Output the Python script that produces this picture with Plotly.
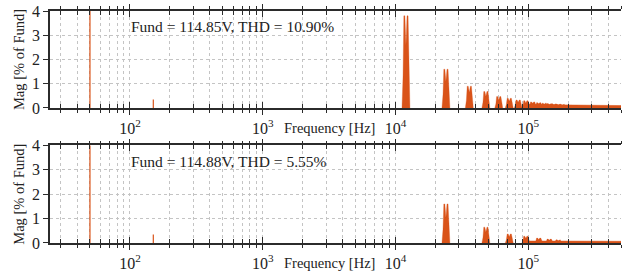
import numpy as np
import plotly.graph_objects as go

# ---------------- data ----------------
low_freqs = [50, 150]                 # Hz: fundamental, 3rd harmonic
low_mags_top = [100.0, 0.35]          # % of fundamental
low_mags_bot = [100.0, 0.35]

# switching-frequency sideband clusters (centre Hz, peak %, notch %)
top_fc = [12000, 24000, 36000, 48000, 60000, 72000, 84000, 96000,
          108000, 120000, 132000, 144000, 156000, 168000, 180000]
top_peak = [3.8, 1.6, 0.9, 0.68, 0.47, 0.40, 0.33, 0.30,
            0.25, 0.22, 0.2, 0.18, 0.17, 0.16, 0.15]
top_notch = [2.6, 1.1, 0.65, 0.48, 0.33, 0.28, 0.24, 0.21,
             0.19, 0.17, 0.15, 0.14, 0.13, 0.12, 0.11]

bot_fc = [24000, 48000, 72000, 96000, 120000, 144000, 168000]
bot_peak = [1.6, 0.65, 0.37, 0.28, 0.2, 0.16, 0.13]
bot_notch = [1.05, 0.45, 0.26, 0.19, 0.14, 0.11, 0.09]

# broadband floor above ~100 kHz
top_floor_f = [97000, 150000, 200000, 300000, 400000, 500000]
top_floor_m = [0.16, 0.13, 0.12, 0.11, 0.10, 0.10]
bot_floor_f = [97000, 150000, 200000, 300000, 400000, 500000]
bot_floor_m = [0.08, 0.08, 0.075, 0.07, 0.07, 0.07]

fund_text = ["Fund = 114.85V, THD = 10.90%", "Fund = 114.88V, THD = 5.55%"]
major_ticks = [100, 1000, 10000, 100000]
major_text = ["10<sup>2</sup>", "10<sup>3</sup>", "10<sup>4</sup>", "10<sup>5</sup>"]

# ---------------- helpers ----------------
ORANGE = "#D95319"
FONT = "Liberation Serif"
OFFS = [-0.030, -0.022, -0.016, -0.008, 0.0, 0.008, 0.016, 0.022, 0.030]


def cluster_xy(fc, pk, nt):
    xs, ys = [], []
    for c, p, n in zip(fc, pk, nt):
        shape = [0, 0.35 * p, p, p, n, p, p, 0.35 * p, 0]
        xs += [c * 10 ** o for o in OFFS] + [None]
        ys += shape + [None]
    return xs, ys


def floor_xy(f, m):
    return [f[0]] + list(f) + [f[-1]], [0] + list(m) + [0]


def line_xy(fr, mg):
    xs, ys = [], []
    for f, m in zip(fr, mg):
        xs += [f, f, None]
        ys += [0, m, None]
    return xs, ys


fig = go.Figure()
panels = [
    (low_mags_top, top_fc, top_peak, top_notch, top_floor_f, top_floor_m, "x", "y"),
    (low_mags_bot, bot_fc, bot_peak, bot_notch, bot_floor_f, bot_floor_m, "x2", "y2"),
]
for low_m, fc, pk, nt, ff, fm, xa, ya in panels:
    fx, fy = floor_xy(ff, fm)
    fig.add_trace(go.Scatter(x=fx, y=fy, mode="lines", fill="toself",
                             fillcolor=ORANGE, line=dict(color=ORANGE, width=0.5),
                             xaxis=xa, yaxis=ya, hoverinfo="skip"))
    cx, cy = cluster_xy(fc, pk, nt)
    fig.add_trace(go.Scatter(x=cx, y=cy, mode="lines", fill="toself",
                             fillcolor=ORANGE, line=dict(color=ORANGE, width=0.3),
                             xaxis=xa, yaxis=ya, hoverinfo="skip"))
    lx, ly = line_xy(low_freqs, low_m)
    fig.add_trace(go.Scatter(x=lx, y=ly, mode="lines",
                             line=dict(color=ORANGE, width=1.2),
                             xaxis=xa, yaxis=ya, hoverinfo="skip"))

minor_vals = []
for dec in [10, 100, 1000, 10000, 100000]:
    for k in range(2, 10):
        v = k * dec
        if 25 <= v <= 500000:
            minor_vals.append(v)

XR = [np.log10(25), np.log10(500000)]
AX = "#2b2b2b"
GRID = "#c4c4c4"

def xaxis_main(anchor):
    return dict(type="log", range=XR, anchor=anchor, tickmode="array",
                tickvals=major_ticks, ticktext=major_text, automargin=False,
                ticks="outside", ticklen=5, tickwidth=1.2, tickcolor=AX,
                mirror="ticks", showline=True, linecolor=AX, linewidth=1.6,
                showgrid=True, gridcolor=GRID, griddash="dot", gridwidth=1,
                layer="above traces",
                tickfont=dict(family=FONT, size=16, color="#222"),
                minor=dict(tickmode="array", tickvals=minor_vals, ticks="outside",
                           ticklen=3, tickwidth=1.1, tickcolor=AX,
                           showgrid=True, gridcolor=GRID, griddash="dot", gridwidth=1),
                zeroline=False)

def xaxis_inner(over, anchor):
    return dict(type="log", range=XR, anchor=anchor, overlaying=over,
                tickmode="array", tickvals=major_ticks, ticks="inside",
                ticklen=6, tickwidth=1.2, tickcolor=AX, showticklabels=False,
                mirror="ticks", showline=True, linecolor=AX, linewidth=1.6,
                showgrid=False, layer="above traces", automargin=False,
                minor=dict(tickmode="array", tickvals=minor_vals, ticks="inside",
                           ticklen=4, tickwidth=1.1, tickcolor=AX, showgrid=False),
                zeroline=False)

def yaxis(domain, anchor):
    return dict(domain=domain, anchor=anchor, range=[0, 4], tickmode="array",
                tickvals=[0, 1, 2, 3, 4], ticks="outside", ticklen=5,
                tickwidth=1.2, tickcolor=AX, showline=True, linecolor=AX,
                linewidth=1.6, mirror=False, showgrid=True, gridcolor=GRID,
                griddash="dot", gridwidth=1, zeroline=False, layer="above traces",
                automargin=False,
                tickfont=dict(family=FONT, size=16, color="#222"),
                title=dict(text="Mag [% of Fund]", standoff=4,
                           font=dict(family=FONT, size=14.5, color="#222")))

# dummy traces for overlay axes
for xa, ya in [("x3", "y"), ("x4", "y2")]:
    fig.add_trace(go.Scatter(x=[100], y=[-1], mode="markers", xaxis=xa, yaxis=ya,
                             marker=dict(opacity=0), hoverinfo="skip"))

fig.update_layout(
    width=632, height=271, margin=dict(l=50, r=11, t=11, b=28),
    paper_bgcolor="white", plot_bgcolor="white", showlegend=False,
    xaxis=xaxis_main("y"), xaxis2=xaxis_main("y2"),
    xaxis3=xaxis_inner("x", "y"), xaxis4=xaxis_inner("x2", "y2"),
    yaxis=yaxis([0.582, 1.0], "x"), yaxis2=yaxis([0.0, 0.4207], "x2"),
    font=dict(family=FONT, color="#222"),
)

# text annotations
for txt, xr, yref in [(fund_text[0], "x domain", "y domain"),
                      (fund_text[1], "x2 domain", "y2 domain")]:
    fig.add_annotation(text=txt, xref=xr, yref=yref, x=(129 - 50) / 571, y=0.84,
                       xanchor="left", yanchor="middle", showarrow=False,
                       font=dict(family=FONT, size=15.5, color="#222"))
    fig.add_annotation(text="Frequency [Hz]", xref=xr, yref=yref,
                       x=(282 - 50) / 571, y=-0.21, xanchor="left", yanchor="middle",
                       showarrow=False, font=dict(family=FONT, size=14.5, color="#222"))

fig.write_html("out.html", config={"displayModeBar": False},
               post_script="document.body.style.margin='0';document.body.style.overflow='hidden';")
